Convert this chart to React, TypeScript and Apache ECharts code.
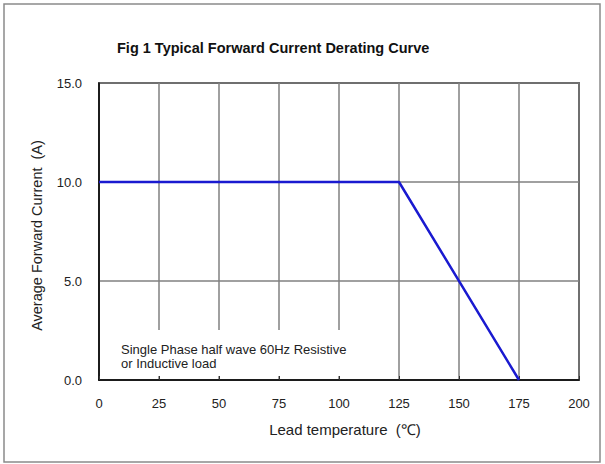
import React, { useEffect, useRef } from "react";
import * as echarts from "echarts";

const titleText = "Fig 1 Typical Forward Current Derating Curve";
const xAxisName = "Lead temperature  (℃)";
const yAxisName = "Average Forward Current  (A)";
const noteLines = ["Single Phase half wave 60Hz Resistive", "or Inductive load"];
const temperatures = [0, 125, 175];
const currents = [10, 10, 0];

export default function App() {
  const ref = useRef<HTMLDivElement>(null);
  useEffect(() => {
    document.body.style.margin = "0";
    const chart = echarts.init(ref.current!, null, { renderer: "svg" });
    const font = "'Liberation Sans', Arial, sans-serif";
    chart.setOption({
      animation: false,
      backgroundColor: "#ffffff",
      textStyle: { fontFamily: font },
      title: {
        text: titleText,
        left: 112,
        top: 35,
        textStyle: { fontFamily: font, fontSize: 14.5, fontWeight: "bold", color: "#111" },
      },
      grid: {
        left: 99,
        right: 26,
        top: 83,
        bottom: 84,
        show: true,
        borderColor: "#000",
        borderWidth: 1.5,
        backgroundColor: "transparent",
      },
      xAxis: {
        type: "value",
        min: 0,
        max: 200,
        interval: 25,
        name: xAxisName,
        nameLocation: "middle",
        nameGap: 42,
        nameTextStyle: { fontFamily: font, fontSize: 15, color: "#222", padding: [0, 0, 0, 12] },
        axisLine: { show: true, lineStyle: { color: "#000", width: 1.5 } },
        axisTick: { show: true, inside: true, length: 4, lineStyle: { color: "#333" } },
        axisLabel: { margin: 17, fontSize: 13, color: "#222", fontFamily: font },
        splitLine: { show: true, lineStyle: { color: "#808080", width: 1.5 } },
      },
      yAxis: {
        type: "value",
        min: 0,
        max: 15,
        interval: 5,
        name: yAxisName,
        nameLocation: "middle",
        nameGap: 55,
        nameRotate: 90,
        nameTextStyle: { fontFamily: font, fontSize: 14.5, color: "#222", padding: [0, 8, 0, 0] },
        axisLine: { show: true, lineStyle: { color: "#000", width: 1.5 } },
        axisTick: { show: false },
        axisLabel: {
          margin: 17,
          fontSize: 13,
          color: "#222",
          fontFamily: font,
          formatter: (v: number) => v.toFixed(1),
        },
        splitLine: { show: true, lineStyle: { color: "#808080", width: 1.5 } },
      },
      graphic: [
        {
          type: "rect",
          shape: { x: 4, y: 4, width: 596, height: 458 },
          style: { fill: "none", stroke: "#8a8a8a", lineWidth: 1.5 },
          z: 100,
        },
        {
          type: "rect",
          shape: { x: 101, y: 330, width: 260, height: 46 },
          style: { fill: "#ffffff" },
          z: 5,
        },
        {
          type: "text",
          x: 121,
          y: 342,
          z: 6,
          style: {
            text: noteLines.join("\n"),
            fontFamily: font,
            fontSize: 13,
            lineHeight: 14,
            fill: "#222",
          },
        },
      ],
      series: [
        {
          type: "line",
          data: temperatures.map((t, i) => [t, currents[i]]),
          symbol: "none",
          lineStyle: { color: "#1a1ad0", width: 2.5 },
          z: 10,
        },
      ],
    });
    return () => chart.dispose();
  }, []);
  return <div ref={ref} style={{ width: 605, height: 464 }} />;
}
